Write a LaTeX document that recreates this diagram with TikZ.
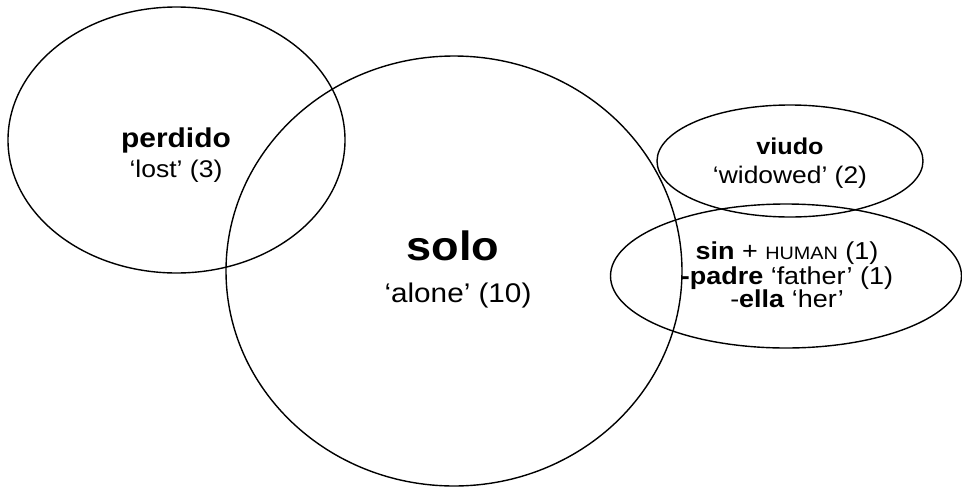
\documentclass[tikz,border=0pt]{standalone}
\usepackage{fontspec}
\setmainfont{Liberation Sans}[FakeStretch=1.1]
\tikzset{
	head/.style={anchor=base, inner sep=0pt, font=\bfseries\fontsize{#1}{#1}\selectfont},
	gloss/.style={anchor=base, inner sep=0pt, font=\fontsize{#1}{#1}\selectfont},
	set/.style={line width=1.4pt}
}
\newcommand{\smallcap}[1]{{\fontsize{18}{18}\selectfont #1}}
\begin{document}
\begin{tikzpicture}[x=1pt, y=-1pt, line join=round, line cap=round]
		\useasboundingbox (0,0) rectangle (962,488);
		% Mengen
		\draw[set] (176.5,140) ellipse [x radius=168.5, y radius=133];
		\draw[set] (454,271) ellipse [x radius=228, y radius=215];
		\draw[set] (790,161) ellipse [x radius=133, y radius=56];
		\draw[set] (786,276) ellipse [x radius=175.5, y radius=72];
		% Texte
		\node[head=27.2] (perdido) at (176,147) {perdido};
		\node[gloss=24.1] (lost) at (176,177) {`lost' (3)};
		\node[head=41] (solo) at (453,260) {solo};
		\node[gloss=27] (alone) at (458,302) {`alone' (10)};
		\node[head=22.9] (viudo) at (790,154) {viudo};
		\node[gloss=24] (widowed) at (790,183) {`widowed' (2)};
		\node[gloss=24.5] (sin) at (787,259) {\textbf{sin} + \smallcap{HUMAN} (1)};
		\node[gloss=24.5] (padre) at (787,284) {\textbf{-padre} `father' (1)};
		\node[gloss=24.5] (ella) at (787,307) {-\textbf{ella} `her'};
	\end{tikzpicture}
\end{document}
